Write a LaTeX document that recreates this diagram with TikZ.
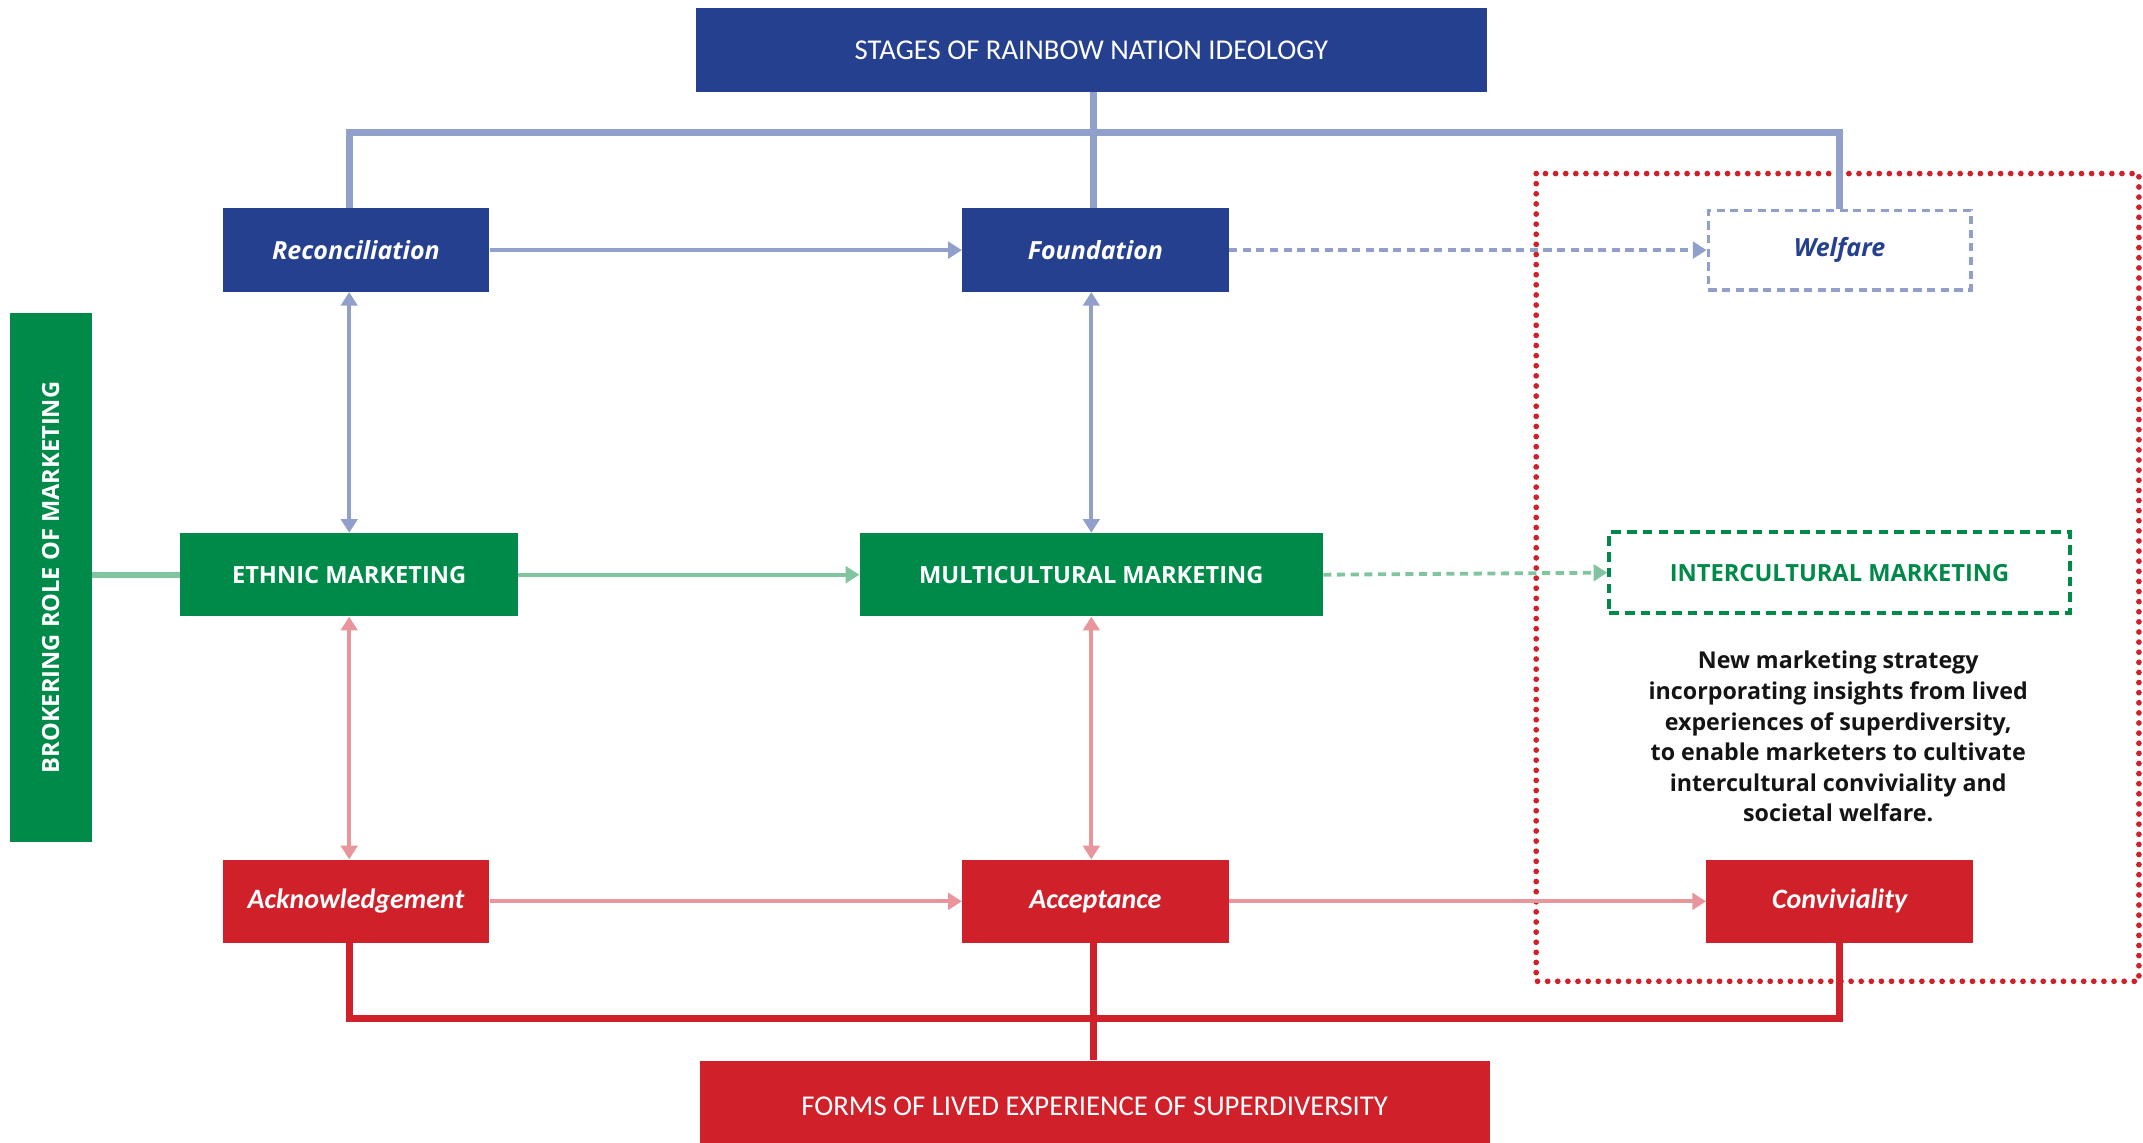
\documentclass[tikz,border=0pt]{standalone}
\usepackage{fontspec}
\setmainfont{Open Sans}
\newfontfamily\carl{Carlito}
\usetikzlibrary{arrows.meta}
\definecolor{navy}{RGB}{37,64,143}
\definecolor{navyline}{RGB}{144,160,203}
\definecolor{leaf}{RGB}{0,138,74}
\definecolor{leafline}{RGB}{128,196,160}
\definecolor{crimson}{RGB}{208,32,42}
\definecolor{crimsonline}{RGB}{232,150,156}
\definecolor{bodytext}{RGB}{20,20,20}
\tikzset{
  box/.style={draw=none, minimum width=195pt, minimum height=61pt, inner sep=0pt, text=white},
  bluebox/.style={box, fill=navy},
  greenbox/.style={box, fill=leaf},
  redbox/.style={box, fill=crimson},
  stagelabel/.style={font=\fontsize{18.3}{21}\selectfont\itshape\bfseries},
  lifelabel/.style={font=\carl\fontsize{20.5}{24}\selectfont\itshape\bfseries},
  mktlabel/.style={font=\fontsize{17.3}{20}\selectfont\bfseries},
  headlabel/.style={font=\carl\fontsize{21}{24}\selectfont},
  tip/.style={-{Triangle[length=10pt,width=12pt]}},
  bitip/.style={{Triangle[length=10pt,width=12pt]}-{Triangle[length=10pt,width=12pt]}},
  blueconn/.style={draw=navyline, line width=2.8pt},
  greenconn/.style={draw=leafline, line width=2.8pt},
  redconn/.style={draw=crimsonline, line width=2.8pt},
  bluebracket/.style={draw=navyline, line width=5pt},
  redbracket/.style={draw=crimson, line width=5pt},
}
\begin{document}
\begin{tikzpicture}[x=1pt,y=-1pt]
\useasboundingbox (0,0) rectangle (1568,836);

% highlighted region around the new stage
\draw[crimson, line width=4.2pt, line cap=round, dash pattern=on 0pt off 7.4pt]
  (1124,127) rectangle (1565,718);

% headers
\node[bluebox, minimum width=579pt, minimum height=61pt, headlabel] (top) at (798.5,36.5) {STAGES OF RAINBOW NATION IDEOLOGY};
\node[redbox, minimum width=578pt, minimum height=70pt, headlabel] (forms) at (801,811) {\raisebox{3pt}{FORMS OF LIVED EXPERIENCE OF SUPERDIVERSITY}};

% rainbow nation stages
\node[bluebox, stagelabel] (rec) at (260.5,183) {Reconciliation};
\node[bluebox, stagelabel] (fou) at (801.5,183) {Foundation};
\node[box, fill=white, draw=navyline, line width=2.6pt, dash pattern=on 6pt off 4pt, minimum width=192pt, minimum height=58pt, stagelabel, text=navy] (wel) at (1346,183) {\raisebox{-2pt}{Welfare}};

% marketing
\node[greenbox, minimum width=247pt, mktlabel] (eth) at (255.5,420.5) {ETHNIC MARKETING};
\node[greenbox, minimum width=339pt, mktlabel] (mul) at (798.5,420.5) {MULTICULTURAL MARKETING};
\node[box, fill=white, draw=leaf, line width=3pt, dash pattern=on 7pt off 4.5pt, minimum width=337pt, minimum height=59pt, mktlabel, text=leaf] (int) at (1346,419) {INTERCULTURAL MARKETING};
\node[greenbox, minimum width=60pt, minimum height=387pt] (brk) at (37,422.5) {};
\node[rotate=90, text=white, mktlabel] at (brk.center) {BROKERING ROLE OF MARKETING};

% lived experience
\node[redbox, lifelabel] (ack) at (260.5,659.5) {Acknowledgement};
\node[redbox, lifelabel] (acc) at (801.5,659.5) {Acceptance};
\node[redbox, lifelabel] (con) at (1346,659.5) {Conviviality};

\node[align=center, text=bodytext, font=\fontsize{17}{22.4}\selectfont\bfseries] (desc) at (1345,539)
  {New marketing strategy\\incorporating insights from lived\\experiences of superdiversity,\\to enable marketers to cultivate\\intercultural conviviality and\\societal welfare.};

% bracket from the ideology header
\coordinate (bhub) at (800,97);
\draw[bluebracket] (bhub |- top.south) -- (bhub);
\draw[bluebracket] (eth.north |- rec.north) |- (bhub) -| (wel.north);
\draw[bluebracket] (bhub) -- (bhub |- fou.north);

% bracket to the lived-experience header
\coordinate (rhub) at (800,745);
\draw[redbracket] (eth.south |- ack.south) |- (rhub) -| (con.south);
\draw[redbracket] (rhub |- acc.south) -- (rhub |- forms.north);

% brokering link
\draw[greenconn, line width=4.5pt] (brk.east |- eth.west) -- (eth.west);

% horizontal progressions
\draw[blueconn, tip] (rec.east) -- (fou.west);
\draw[blueconn, tip, dash pattern=on 6pt off 4pt] (fou.east) -- (wel.west);
\draw[greenconn, tip] (eth.east) -- (mul.west);
\draw[greenconn, tip, dash pattern=on 6pt off 4pt] (mul.east) -- (int.west);
\draw[redconn, tip] (ack.east) -- (acc.west);
\draw[redconn, tip] (acc.east) -- (con.west);

% vertical links
\draw[blueconn, bitip] (eth.north |- rec.south) -- (eth.north);
\draw[blueconn, bitip] (mul.north |- fou.south) -- (mul.north);
\draw[redconn, bitip] (eth.south) -- (eth.south |- ack.north);
\draw[redconn, bitip] (mul.south) -- (mul.south |- acc.north);
\end{tikzpicture}
\end{document}
